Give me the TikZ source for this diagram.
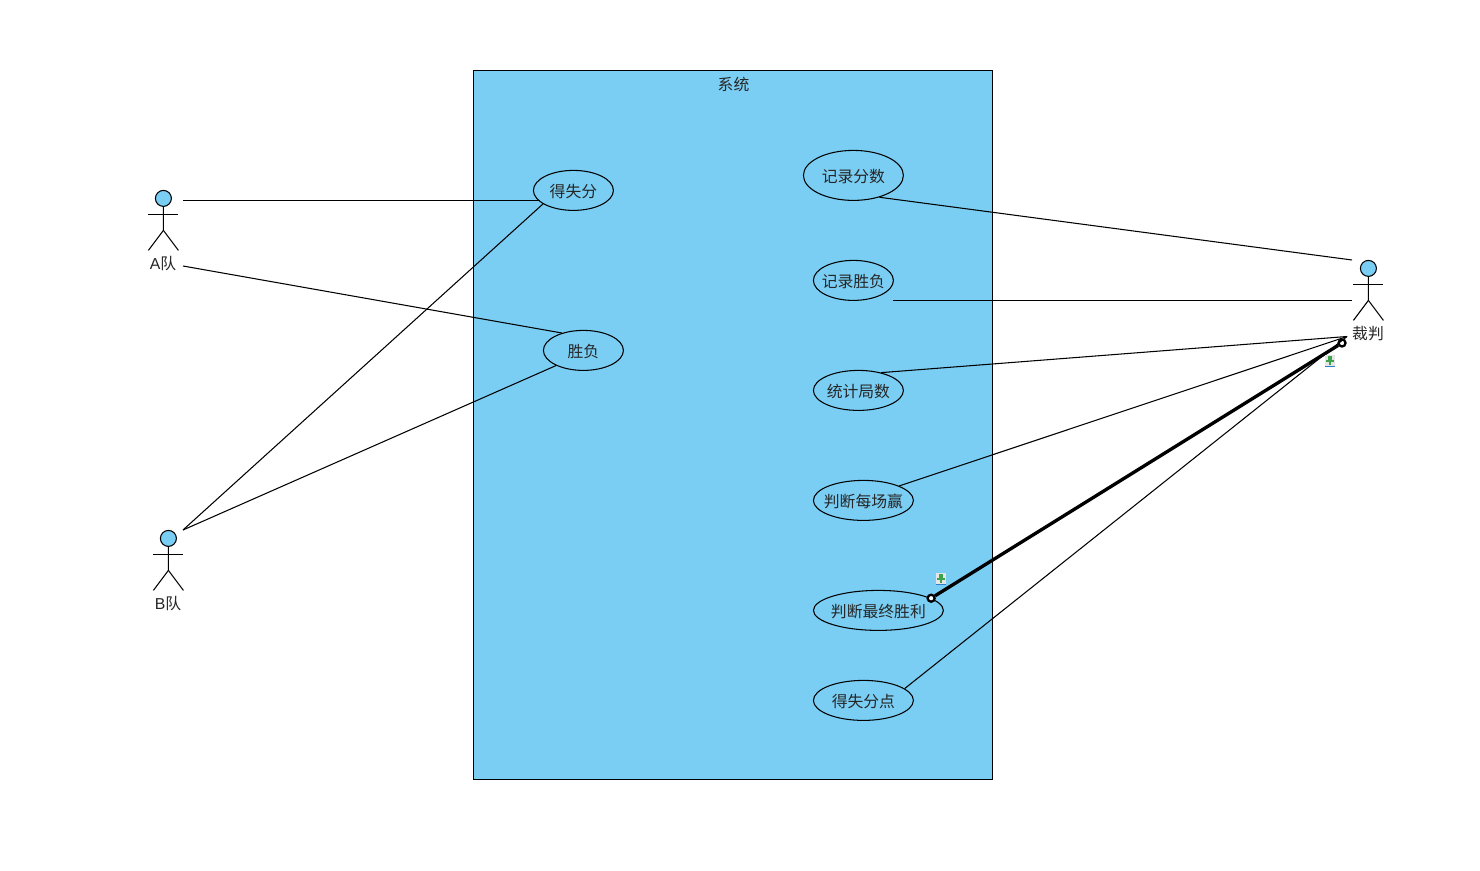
\documentclass[tikz,border=0pt]{standalone}
\usepackage{fontspec}
\setmainfont{Liberation Sans}
\newfontfamily\cjk{Noto Sans CJK SC}
\usepackage{xcolor}
\usetikzlibrary{positioning,shapes.geometric}
\definecolor{sysblue}{HTML}{7ACEF4}
\definecolor{pingreen}{HTML}{3FA34D}
\definecolor{pinblue}{HTML}{2F7FD0}
\newcommand\uclabel[1]{\makebox[0pt]{\raisebox{-4.2pt}[0pt][0pt]{#1}}}
\begin{document}
\begin{tikzpicture}[
  x=0.02cm, y=-0.02cm,
  every node/.style={font=\fontsize{9}{11}\selectfont\cjk, text=black!85},
  usecase/.style={draw=black, ellipse, line width=0.6pt, inner sep=0pt, minimum height=0.8cm},
  sysbox/.style={draw=black, fill=sysblue, line width=0.6pt, minimum width=10.4cm, minimum height=14.2cm, inner sep=0pt},
  assoc/.style={black, line width=0.6pt},
  picked/.style={black, line width=1.9pt},
  handle/.style={draw=black, fill=white, circle, line width=1.3pt, minimum size=0.14cm, inner sep=0pt},
  actor/.pic={
    \node[draw=black, fill=sysblue, circle, line width=0.6pt, minimum size=0.32cm, inner sep=0pt] (-head) at (0,0) {};
    \draw[assoc] (-head.south) -- (0,32) -- (-15,52);
    \draw[assoc] (0,32) -- (15,52);
    \draw[assoc] (-15,16) -- (15,16);
  },
  pinicon/.pic={
    \fill[black!10] (-5,-6) rectangle (5,5);
    \fill[pinblue] (-5,4.5) rectangle (5,6);
    \fill[pingreen] (-4,-1) rectangle (4,0.5);
    \fill[pingreen] (-2,-5) rectangle (2,-1);
    \fill[pingreen] (-0.7,0) rectangle (0.7,4);
  }]
\useasboundingbox (0,0) rectangle (1480,871);
% system frame
\node[sysbox] (system) at (733,425) {};
\node (systitle) at (733.5,84) {系统};
% use cases
\node[usecase, minimum width=1.6cm] (score) at (573.4,190.4) {\uclabel{得失分}};
\node[usecase, minimum width=1.6cm] (result) at (583.4,350.4) {\uclabel{胜负}};
\node[usecase, minimum width=2cm, minimum height=1cm] (recscore) at (853.4,175.4) {\uclabel{记录分数}};
\node[usecase, minimum width=1.6cm] (recresult) at (853.4,280.4) {\uclabel{记录胜负}};
\node[usecase, minimum width=1.8cm] (countgames) at (858.4,390.4) {\uclabel{统计局数}};
\node[usecase, minimum width=2cm] (judgegame) at (863.4,500.4) {\uclabel{判断每场赢}};
\node[usecase, minimum width=2.6cm] (judgefinal) at (878.4,610.4) {\uclabel{判断最终胜利}};
\node[usecase, minimum width=2cm] (points) at (863.4,700.4) {\uclabel{得失分点}};
% actors
\pic (teama) at (163.4,198.4) {actor};
\node (teamalabel) at (163,264) {{\rmfamily A}队};
\pic (teamb) at (168.4,538.4) {actor};
\node (teamblabel) at (168,604) {{\rmfamily B}队};
\pic (referee) at (1368.4,268.4) {actor};
\node (refereelabel) at (1368,334) {裁判};
% free ends next to the actors
\coordinate (teamaup) at (183,200.4);
\coordinate (teamalow) at (183,266);
\coordinate (teambup) at (183,530);
\coordinate (refup) at (1352,260);
\coordinate (refmid) at (1352,300.4);
\coordinate (reflow) at (1347,336.5);
\coordinate (recresultse) at (893,300.4);
\node[handle] (handlefinal) at (judgefinal.13) {};
\node[handle] (handleref) at (1342,343) {};
% connectors
\draw[assoc] (teamaup) -- (teamaup -| score.197);
\draw[assoc] (teamalow) -- (result.141);
\draw[assoc] (teambup) -- (score.204);
\draw[assoc] (teambup) -- (result.209);
\draw[assoc] (recscore.-40) -- (refup);
\draw[assoc] (recresultse) -- (refmid);
\draw[assoc] (countgames.38) -- (reflow);
\draw[assoc] (judgegame.22) -- (reflow);
\draw[assoc] (points.16) -- (reflow);
\draw[picked] (handlefinal) -- (handleref);
% pin icons
\pic at (941,579) {pinicon};
\pic at (1330,361) {pinicon};
\end{tikzpicture}
\end{document}
